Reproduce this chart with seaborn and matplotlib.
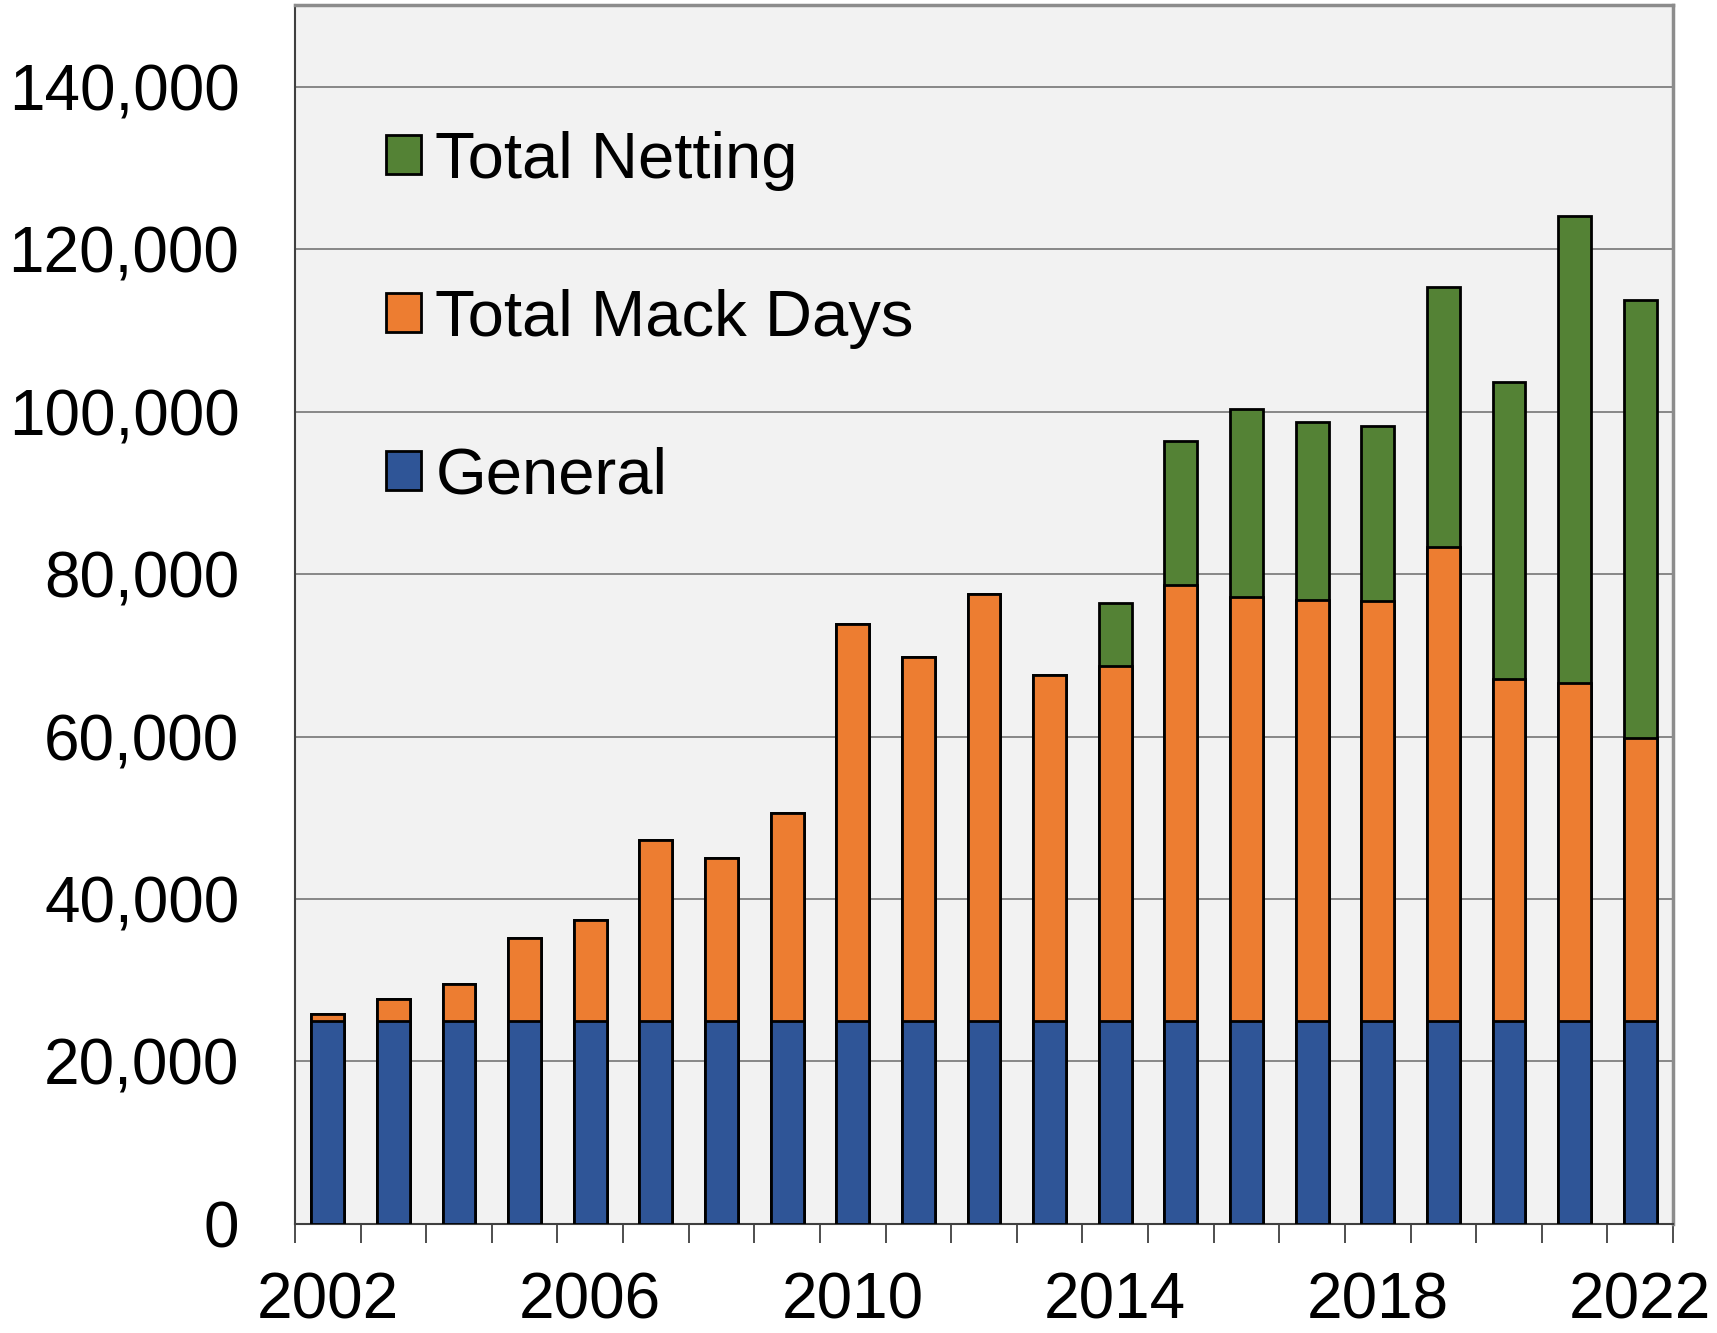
import numpy as np
import pandas as pd
import matplotlib
matplotlib.use("Agg")
import matplotlib.pyplot as plt
import seaborn as sns
from matplotlib.ticker import FuncFormatter, FixedLocator

years = [str(y) for y in range(2002, 2023)]
general = [25000] * 21
mack_days = [800, 2700, 4600, 10200, 12400, 22300, 20000, 25600, 48900, 44800,
             52600, 42600, 43700, 53600, 52200, 51800, 51700, 58300, 42100, 41600, 34800]
netting = [0, 0, 0, 0, 0, 0, 0, 0, 0, 0,
           0, 0, 7700, 17800, 23100, 21900, 21500, 32100, 36600, 57500, 53900]

df = pd.DataFrame({"year": years, "General": general,
                   "Total Mack Days": mack_days, "Total Netting": netting})
df["mack_top"] = df["General"] + df["Total Mack Days"]
df["total"] = df["mack_top"] + df["Total Netting"]

c_general = "#2F5597"
c_mack = "#ED7D31"
c_net = "#548235"

sns.set_theme(style="white")
plt.rcParams["font.family"] = ["Liberation Sans", "DejaVu Sans"]
plt.rcParams["text.color"] = "black"

fig = plt.figure(figsize=(17.17, 13.33), dpi=100)
ax = fig.add_axes([0.1718, 0.0818, 0.9744 - 0.1718, 0.9959 - 0.0818])
ax.set_facecolor("#F2F2F2")

bar_kw = dict(width=0.5, edgecolor="black", linewidth=2.0, saturation=1, ax=ax, zorder=3)
# stacked look: draw cumulative tops first, smaller layers on top
sns.barplot(data=df, x="year", y="total", color=c_net, label="Total Netting", **bar_kw)
sns.barplot(data=df, x="year", y="mack_top", color=c_mack, label="Total Mack Days", **bar_kw)
sns.barplot(data=df, x="year", y="General", color=c_general, label="General", **bar_kw)

ax.set_xlim(-0.5, 20.5)
ax.set_ylim(0, 150000)
ax.set_yticks(np.arange(0, 140001, 20000))
ax.yaxis.set_major_formatter(FuncFormatter(lambda v, p: f"{int(v):,}"))
ax.grid(axis="y", color="#7F7F7F", linewidth=1.3, zorder=0)
ax.set_axisbelow(True)

ax.set_xticks(range(0, 21, 4))
ax.set_xticklabels(years[::4])
ax.xaxis.set_minor_locator(FixedLocator(np.arange(-0.5, 21, 1)))
ax.tick_params(axis="x", which="major", length=0, pad=34, labelsize=46, colors="black")
ax.tick_params(axis="x", which="minor", length=14, width=1.3, color="#404040",
               direction="out", bottom=True)
ax.tick_params(axis="y", which="major", length=14, width=1.3, color="#404040",
               direction="out", pad=26, labelsize=46, labelcolor="black")

ax.set_xlabel("")
ax.set_ylabel("")

for side in ["left", "bottom"]:
    ax.spines[side].set_color("#404040")
    ax.spines[side].set_linewidth(1.5)
for side in ["top", "right"]:
    ax.spines[side].set_color("#8C8C8C")
    ax.spines[side].set_linewidth(2.5)

handles, labels = ax.get_legend_handles_labels()
leg = ax.legend(handles, labels, loc="center left", bbox_to_anchor=(0.0664, 0.743),
                frameon=False, fontsize=47, borderpad=0, borderaxespad=0,
                labelspacing=1.5, handlelength=0.53, handleheight=0.53,
                handletextpad=0.22, labelcolor="black")

fig.savefig("out.png", dpi=100)
